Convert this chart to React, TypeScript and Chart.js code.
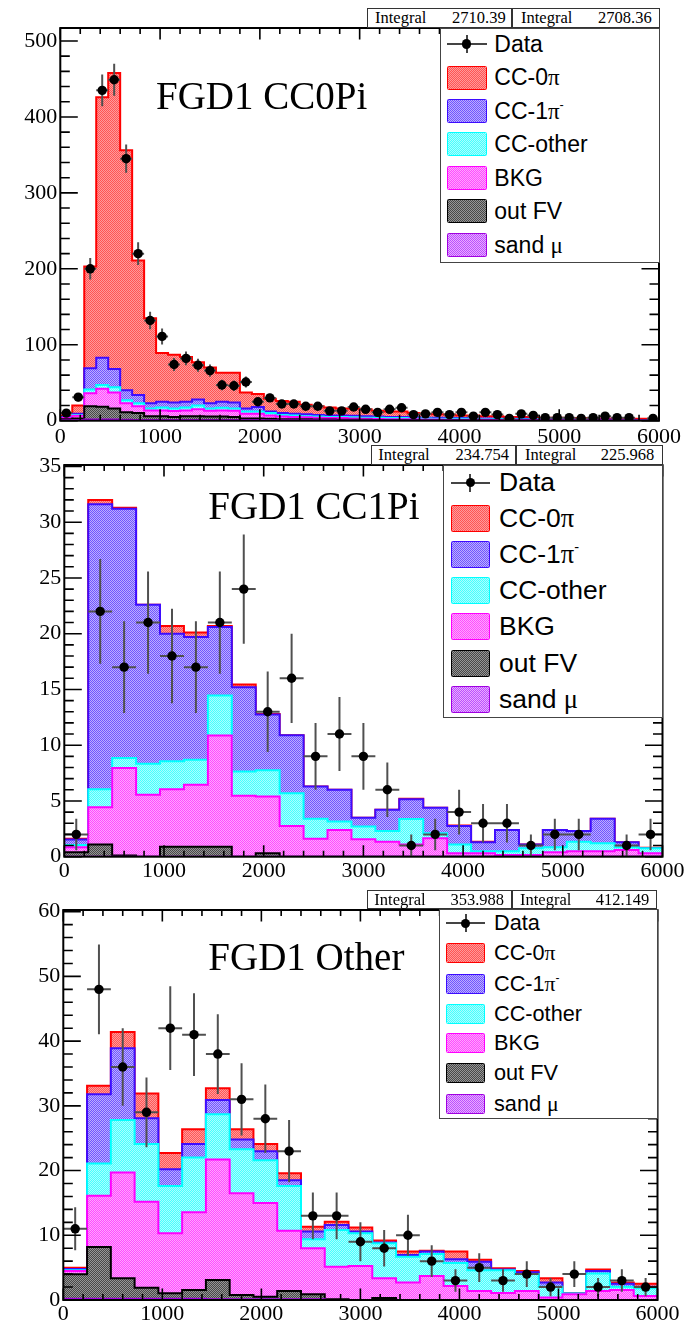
import React, { useEffect, useRef } from 'react';
import { Chart, registerables } from 'chart.js';

Chart.register(...registerables);

// ---------------- data ----------------
const X_TICK_LABELS = [0, 1000, 2000, 3000, 4000, 5000, 6000];
const LEGEND_LABELS = ['Data', 'CC-0π', 'CC-1π', 'CC-other', 'BKG', 'out FV', 'sand μ'];
const LEGEND_SUPERSCRIPTS = ['', '', '-', '', '', '', ''];

// FGD1 CC0Pi (bins of 120)
const cc0pi_binWidth = 120;
const cc0pi_yTicks = [0, 100, 200, 300, 400, 500];
const cc0pi_integrals = ['2710.39', '2708.36'];
const cc0pi_data = [10, 31, 200, 435, 449, 345, 220, 132, 111, 74, 82, 73, 66, 47, 46, 51, 25, 30, 22, 22, 19, 19, 13, 13, 18, 15, 11, 15, 17, 8, 9, 11, 8, 11, 6, 11, 8, 3, 9, 7, 4, 4, 4, 3, 4, 6, 4, 4, null, 3];
const cc0pi_mcCC0pi = [2, 11, 134, 343, 390, 316, 177, 112, 64, 63, 59, 49, 47, 38, 39, 21, 17, 17, 16, 16, 12.5, 11.5, 10.5, 9, 9.5, 9, 7.5, 7, 7, 5.5, 5, 4.5, 4.5, 3.5, 4, 3, 3.5, 2.5, 2.5, 2.5, 2, 2, 2, 2, 1.5, 1.5, 1.8, 1.3, 1.5, 1.5];
const cc0pi_mcCC1pi = [1, 1.5, 28, 36, 24, 13, 11, 7, 7.5, 8, 7.5, 8, 7, 8, 8, 4, 6, 2, 2.5, 2, 2.5, 2, 2, 2, 2, 2, 1.5, 1.5, 1.5, 1.5, 1, 1.5, 1, 1, 1, 1, 0.5, 0.7, 0.9, 0.5, 0.6, 0.7, 0.3, 0.4, 0.5, 0.5, 0.3, 0.3, 0.2, 0.2];
const cc0pi_mcCCother = [0.5, 1, 5, 5, 7, 4, 4, 2.5, 4, 3.3, 4, 5, 3, 3.5, 3, 3, 3, 3, 2, 2, 1.5, 1.5, 1.5, 1.5, 1.5, 1.5, 1.7, 1.5, 1.5, 1.2, 1.4, 1, 1.1, 1.2, 0.8, 0.9, 1, 0.9, 0.7, 0.7, 0.7, 0.6, 0.6, 0.5, 0.5, 0.5, 0.4, 0.5, 0.4, 0.4];
const cc0pi_mcBKG = [1.5, 3.5, 17, 23.5, 21, 12, 9, 7.5, 7.5, 7.7, 7.5, 9, 7.5, 8, 8, 6, 6, 4.5, 3.5, 3, 2.7, 2.4, 2, 2.1, 1.7, 1.3, 1.3, 1, 1.1, 1, 0.9, 0.9, 0.8, 0.8, 0.7, 0.7, 0.6, 0.6, 0.6, 0.5, 0.5, 0.5, 0.4, 0.4, 0.4, 0.4, 0.4, 0.3, 0.3, 0.3];
const cc0pi_mcOutFV = [1.5, 2.2, 17.5, 17, 14.5, 9.8, 9, 5, 5, 4, 5, 5, 4.5, 4.5, 4, 2.2, 2.2, 1.8, 1.4, 1.4, 1.3, 1.1, 1, 1, 0.9, 0.8, 0.7, 0.7, 0.6, 0.5, 0.4, 0.4, 0.4, 0.3, 0.3, 0.2, 0.2, 0.2, 0.2, 0.2, 0.1, 0.1, 0.1, 0.1, 0, 0, 0, 0, 0, 0];
const cc0pi_mcSand = [0.5, 0.8, 1.5, 1.5, 1.5, 1.2, 1, 1, 1, 1, 1, 1, 1, 1, 1, 0.8, 0.8, 0.7, 0.6, 0.6, 0.5, 0.5, 0.5, 0.4, 0.4, 0.4, 0.3, 0.3, 0.3, 0.3, 0.3, 0.2, 0.2, 0.2, 0.2, 0.2, 0.2, 0.1, 0.1, 0.1, 0.1, 0.1, 0.1, 0.1, 0.1, 0.1, 0.1, 0.1, 0.1, 0.1];

// FGD1 CC1Pi (bins of 240)
const cc1pi_binWidth = 240;
const cc1pi_yTicks = [0, 5, 10, 15, 20, 25, 30, 35];
const cc1pi_integrals = ['234.754', '225.968'];
const cc1pi_data = [2, 22, 17, 21, 18, 17, 21, 24, 13, 16, 9, 11, 9, 6, 1, 2, 4, 3, 3, 1, 2, 2, null, 1, 2];
const cc1pi_mcCC0pi = [0.05, 0.4, 0.1, 0, 0.7, 0.4, 0.1, 0.25, 0.05, 0, 0, 0, 0, 0, 0.04, 0, 0.04, 0.05, 0, 0, 0, 0, 0, 0, 0.05];
const cc1pi_mcCC1pi = [0.5, 25.54, 22.35, 14.26, 11.45, 11.0, 6.14, 7.55, 5.0, 5.2, 2.9, 2.85, 0.8, 1.9, 1.79, 2.3, 1.66, 0.8, 1.9, 0.35, 1.55, 0.95, 2.2, 0.45, 0];
const cc1pi_mcCCother = [0.2, 1.62, 0.9, 2.79, 2.49, 2.25, 3.6, 2.19, 2.35, 2.94, 1.8, 0.75, 1.14, 0.95, 2.27, 0.45, 0.8, 0.2, 0.35, 0.6, 0.45, 0.85, 0.7, 0.25, 0.45];
const cc1pi_mcBKG = [0.45, 3.34, 7.85, 5.55, 5.16, 5.55, 9.96, 5.46, 5.1, 2.76, 1.6, 2.4, 1.56, 1.35, 1.1, 1.65, 0.3, 0.3, 0.15, 0.15, 0.4, 0.5, 0.5, 0.6, 0.3];
const cc1pi_mcOutFV = [0.4, 1.1, 0.1, 0, 0.9, 0.9, 0.9, 0, 0.3, 0, 0, 0, 0, 0, 0, 0, 0, 0, 0, 0, 0, 0, 0, 0, 0];
const cc1pi_mcSand = [0, 0, 0, 0, 0, 0, 0, 0, 0, 0, 0, 0, 0, 0, 0, 0, 0, 0, 0, 0, 0, 0, 0, 0, 0];

// FGD1 Other (bins of 240)
const other_binWidth = 240;
const other_yTicks = [0, 10, 20, 30, 40, 50, 60];
const other_integrals = ['353.988', '412.149'];
const other_data = [11, 48, 36, 29, 42, 41, 38, 31, 28, 23, 13, 13, 9, 8, 10, 6, 3, 5, 3, 4, 2, 4, 2, 3, 2];
const other_mcCC0pi = [0.2, 1.3, 2.5, 3.8, 2.5, 2.3, 1.8, 1.6, 1.1, 1.1, 0.7, 0.5, 0.6, 0.3, 0.55, 0.1, 1.2, 0.3, 0.2, 0.2, 0.65, 0.05, 0.2, 0.2, 0.44];
const other_mcCC1pi = [0.2, 10.7, 11.1, 4.0, 2.6, 2.1, 2.2, 1.5, 1.4, 0.9, 1.2, 0.8, 0.3, 0.14, 0.25, 0.4, 0.6, 1.3, 0.1, 0.3, 0.64, 0, 0.4, 0.44, 0.26];
const other_mcCCother = [0.1, 5.0, 8.1, 8.9, 7.3, 8.45, 7.0, 6.8, 6.6, 6.9, 1.4, 5.65, 5.05, 5.41, 4.0, 3.4, 3.54, 3.2, 3.5, 2.6, 1.66, 0.12, 2.7, 0.51, 1.2];
const other_mcBKG = [0.53, 7.9, 16.35, 13.3, 9.27, 12.0, 18.6, 15.73, 14.5, 9.3, 7.1, 5.05, 5.25, 3.05, 2.7, 3.7, 2.16, 1.4, 1.1, 1.4, 0.4, 0.88, 1.4, 1.55, 0.6];
const other_mcOutFV = [3.77, 8.0, 3.15, 1.7, 0.83, 1.35, 3.0, 0.67, 0.4, 1.3, 0.8, 0.1, 0, 0.3, 0, 0, 0, 0, 0, 0, 0, 0, 0, 0, 0];
const other_mcSand = [0.2, 0.2, 0.2, 0.2, 0.2, 0.2, 0.1, 0.1, 0.1, 0.1, 0.1, 0, 0, 0, 0, 0, 0, 0, 0, 0, 0, 0, 0, 0, 0];

// ---------------- styles ----------------
const SERIF = "'Liberation Serif', 'Times New Roman', serif";
const SANS = "'Liberation Sans', Arial, Helvetica, sans-serif";

type CompKey = 'cc0pi' | 'cc1pi' | 'ccother' | 'bkg' | 'outfv' | 'sand';
const STACK_ORDER: CompKey[] = ['sand', 'outfv', 'bkg', 'ccother', 'cc1pi', 'cc0pi'];
const LEGEND_KEYS: (CompKey | null)[] = [null, 'cc0pi', 'cc1pi', 'ccother', 'bkg', 'outfv', 'sand'];
const STYLES: Record<CompKey, { line: string; dark: string; light: string }> = {
  cc0pi: { line: '#ff0000', dark: 'rgb(255,85,85)', light: 'rgb(255,155,155)' },
  cc1pi: { line: '#3d0cff', dark: 'rgb(112,86,255)', light: 'rgb(188,174,255)' },
  ccother: { line: '#00ffff', dark: 'rgb(70,255,255)', light: 'rgb(170,255,255)' },
  bkg: { line: '#ff00ff', dark: 'rgb(255,75,255)', light: 'rgb(255,165,255)' },
  outfv: { line: '#000000', dark: 'rgb(72,72,72)', light: 'rgb(150,150,150)' },
  sand: { line: '#a000e0', dark: 'rgb(185,80,255)', light: 'rgb(235,170,255)' },
};

const patternCache: Record<string, HTMLCanvasElement> = {};
function patternCanvas(key: CompKey): HTMLCanvasElement {
  if (patternCache[key]) return patternCache[key];
  const cv = document.createElement('canvas');
  cv.width = 2;
  cv.height = 2;
  const g = cv.getContext('2d')!;
  g.fillStyle = STYLES[key].light;
  g.fillRect(0, 0, 2, 2);
  g.fillStyle = STYLES[key].dark;
  g.fillRect(0, 0, 1, 1);
  g.fillRect(1, 1, 1, 1);
  patternCache[key] = cv;
  return cv;
}

type PanelDef = {
  id: string;
  canvasTop: number;
  canvasHeight: number;
  area: { left: number; right: number; top: number; bottom: number };
  yMax: number;
  yTicks: number[];
  yMinor: number;
  xLabelPad: number;
  binWidth: number;
  data: (number | null)[];
  comps: Record<CompKey, number[]>;
  integrals: string[];
  title: string;
  titleX: number;
  titleBaseline: number;
  legend: { left: number; top: number; right: number; bottom: number; swX: number; swW: number; swH: number; textX: number; rows: number[]; font: number };
  integral: { top: number; bottom: number; x0: number; xm: number; x1: number; lab1: number; val1R: number; lab2: number; val2R: number };
};

const PANELS: PanelDef[] = [
  {
    id: 'cc0pi', canvasTop: 0, canvasHeight: 450,
    area: { left: 60.3, right: 659, top: 28, bottom: 420.7 },
    yMax: 517.1, yTicks: cc0pi_yTicks, yMinor: 20, xLabelPad: 3.5, binWidth: cc0pi_binWidth,
    data: cc0pi_data,
    comps: { cc0pi: cc0pi_mcCC0pi, cc1pi: cc0pi_mcCC1pi, ccother: cc0pi_mcCCother, bkg: cc0pi_mcBKG, outfv: cc0pi_mcOutFV, sand: cc0pi_mcSand },
    integrals: cc0pi_integrals,
    title: 'FGD1 CC0Pi', titleX: 156, titleBaseline: 108.3,
    legend: { left: 440, top: 28, right: 659.5, bottom: 263, swX: 446.7, swW: 40, swH: 24, textX: 494.3, rows: [44, 77.7, 111, 144.3, 178.3, 211, 245], font: 23 },
    integral: { top: 8, bottom: 28, x0: 367, xm: 512, x1: 659.5, lab1: 375, val1R: 505.7, lab2: 521, val2R: 651.7 },
  },
  {
    id: 'cc1pi', canvasTop: 440, canvasHeight: 445,
    area: { left: 64.3, right: 662.5, top: 465, bottom: 856.7 },
    yMax: 35.13, yTicks: cc1pi_yTicks, yMinor: 1, xLabelPad: 1.5, binWidth: cc1pi_binWidth,
    data: cc1pi_data,
    comps: { cc0pi: cc1pi_mcCC0pi, cc1pi: cc1pi_mcCC1pi, ccother: cc1pi_mcCCother, bkg: cc1pi_mcBKG, outfv: cc1pi_mcOutFV, sand: cc1pi_mcSand },
    integrals: cc1pi_integrals,
    title: 'FGD1 CC1Pi', titleX: 208.3, titleBaseline: 518.3,
    legend: { left: 443, top: 465, right: 663, bottom: 718, swX: 450.7, swW: 39.3, swH: 26.5, textX: 499, rows: [482.7, 518.3, 554.3, 590.7, 626.7, 663.3, 699.3], font: 26.5 },
    integral: { top: 445, bottom: 464.5, x0: 370.7, xm: 516, x1: 663, lab1: 378.3, val1R: 509, lab2: 525, val2R: 654.3 },
  },
  {
    id: 'other', canvasTop: 885, canvasHeight: 440,
    area: { left: 63.3, right: 657.5, top: 910, bottom: 1300 },
    yMax: 60.26, yTicks: other_yTicks, yMinor: 2, xLabelPad: 1.5, binWidth: other_binWidth,
    data: other_data,
    comps: { cc0pi: other_mcCC0pi, cc1pi: other_mcCC1pi, ccother: other_mcCCother, bkg: other_mcBKG, outfv: other_mcOutFV, sand: other_mcSand },
    integrals: other_integrals,
    title: 'FGD1 Other', titleX: 208.3, titleBaseline: 969.3,
    legend: { left: 439, top: 909, right: 657.5, bottom: 1119, swX: 446, swW: 39.3, swH: 20.3, textX: 494, rows: [923.3, 953.3, 984, 1014, 1043.3, 1073.3, 1104.3], font: 21.7 },
    integral: { top: 890, bottom: 909, x0: 366.7, xm: 511.7, x1: 657.5, lab1: 374.3, val1R: 504, lab2: 520, val2R: 649.3 },
  },
];

function renderLabel(text: string, sup: string) {
  const parts: React.ReactNode[] = [];
  let buf = '';
  let k = 0;
  for (const ch of text) {
    if (ch === 'π' || ch === 'μ') {
      if (buf) parts.push(<span key={k++}>{buf}</span>);
      buf = '';
      parts.push(<span key={k++} style={{ fontFamily: SERIF }}>{ch}</span>);
    } else buf += ch;
  }
  if (buf) parts.push(<span key={k++}>{buf}</span>);
  if (sup) parts.push(<span key={k++} style={{ fontSize: '0.55em', position: 'relative', top: '-0.75em' }}>{sup}</span>);
  return parts;
}

function Panel({ p }: { p: PanelDef }) {
  const ref = useRef<HTMLCanvasElement | null>(null);

  useEffect(() => {
    const canvas = ref.current;
    if (!canvas) return;
    const ctx2d = canvas.getContext('2d')!;
    const n = p.data.length;
    const edges = Array.from({ length: n + 1 }, (_, k) => k * p.binWidth);

    let running = new Array(n).fill(0);
    const stackDatasets = STACK_ORDER.map((key) => {
      running = running.map((v, i) => v + p.comps[key][i]);
      const tops = running.slice();
      return {
        type: 'line',
        label: LEGEND_LABELS[LEGEND_KEYS.indexOf(key)],
        data: edges.map((x, k) => ({ x, y: tops[Math.min(k, n - 1)] })),
        stepped: 'before',
        fill: 'origin',
        borderColor: STYLES[key].line,
        borderWidth: 2,
        backgroundColor: ctx2d.createPattern(patternCanvas(key), 'repeat'),
        pointRadius: 0,
        pointHoverRadius: 0,
      };
    });

    const points = p.data
      .map((v, i) => (v == null ? null : { x: (i + 0.5) * p.binWidth, y: v }))
      .filter((v) => v !== null) as { x: number; y: number }[];

    const dataDataset = {
      type: 'line',
      label: 'Data',
      data: points,
      showLine: false,
      fill: false,
      pointRadius: 4.7,
      pointHoverRadius: 4.7,
      pointBackgroundColor: '#000',
      pointBorderColor: '#000',
      pointBorderWidth: 0,
    };

    const rootPlugin = {
      id: 'rootStyle',
      beforeDatasetDraw(chart: any, args: any) {
        if (args.index !== 0) return;
        const { ctx, chartArea: a, scales } = chart;
        const x = scales.x;
        const y = scales.y;
        ctx.save();
        ctx.beginPath();
        ctx.rect(a.left, a.top, a.right - a.left, a.bottom - a.top);
        ctx.clip();
        ctx.strokeStyle = '#505050';
        ctx.lineWidth = 2;
        ctx.beginPath();
        for (const pt of points) {
          const px = x.getPixelForValue(pt.x);
          const py = y.getPixelForValue(pt.y);
          const e = Math.sqrt(pt.y);
          ctx.moveTo(px, y.getPixelForValue(pt.y + e));
          ctx.lineTo(px, y.getPixelForValue(Math.max(0, pt.y - e)));
          ctx.moveTo(x.getPixelForValue(pt.x - p.binWidth / 2), py);
          ctx.lineTo(x.getPixelForValue(pt.x + p.binWidth / 2), py);
        }
        ctx.stroke();
        ctx.restore();
      },
      afterDatasetsDraw(chart: any) {
        const { ctx, chartArea: a, scales } = chart;
        const x = scales.x;
        const y = scales.y;
        ctx.save();
        ctx.strokeStyle = '#000';
        ctx.lineWidth = 1.6;
        ctx.beginPath();
        // x ticks (bottom & top), major every 1000, minor every 200
        for (let i = 0; i <= 30; i++) {
          const v = i * 200;
          const px = x.getPixelForValue(v);
          const len = i % 5 === 0 ? 11.5 : 6;
          ctx.moveTo(px, a.bottom);
          ctx.lineTo(px, a.bottom - len);
          ctx.moveTo(px, a.top);
          ctx.lineTo(px, a.top + len);
        }
        // y ticks (left & right)
        const majorStep = p.yTicks[1] - p.yTicks[0];
        const ratio = Math.round(majorStep / p.yMinor);
        for (let i = 0; i * p.yMinor <= p.yMax + 1e-9; i++) {
          const v = i * p.yMinor;
          const py = y.getPixelForValue(v);
          const len = i % ratio === 0 ? 17.5 : 9.5;
          ctx.moveTo(a.left, py);
          ctx.lineTo(a.left + len, py);
          ctx.moveTo(a.right, py);
          ctx.lineTo(a.right - len, py);
        }
        ctx.stroke();
        ctx.lineWidth = 2;
        ctx.strokeRect(a.left, a.top, a.right - a.left, a.bottom - a.top);
        ctx.restore();
      },
    };

    const tickFont = { family: SERIF, size: 22 };
    const config: any = {
      type: 'line',
      data: { datasets: [dataDataset, ...stackDatasets] },
      options: {
        animation: false,
        responsive: false,
        devicePixelRatio: 1,
        events: [],
        layout: {
          padding: { top: p.area.top - p.canvasTop, right: 689 - p.area.right, left: 0, bottom: 0 },
        },
        plugins: {
          legend: { display: false },
          tooltip: { enabled: false },
          title: { display: false },
        },
        scales: {
          x: {
            type: 'linear',
            min: 0,
            max: 6000,
            grid: { display: false, drawTicks: false },
            border: { display: false },
            ticks: {
              autoSkip: false,
              maxRotation: 0,
              minRotation: 0,
              padding: p.xLabelPad,
              color: '#000',
              font: tickFont,
              callback: (v: any) => String(v),
            },
            afterBuildTicks: (s: any) => {
              s.ticks = X_TICK_LABELS.map((v) => ({ value: v }));
            },
            afterFit: (s: any) => {
              s.height = p.canvasTop + p.canvasHeight - p.area.bottom;
            },
          },
          y: {
            type: 'linear',
            min: 0,
            max: p.yMax,
            grid: { display: false, drawTicks: false },
            border: { display: false },
            ticks: {
              padding: 3,
              color: '#000',
              font: tickFont,
              callback: (v: any) => String(v),
            },
            afterBuildTicks: (s: any) => {
              s.ticks = p.yTicks.map((v) => ({ value: v }));
            },
            afterFit: (s: any) => {
              s.width = p.area.left;
            },
          },
        },
      },
      plugins: [rootPlugin],
    };

    const chart = new Chart(canvas, config);
    return () => chart.destroy();
  }, [p]);

  const L = p.legend;
  const I = p.integral;
  const titleFont = 39;
  const intFont = 16.5;
  const intH = I.bottom - I.top;
  const intText = (left: number, right: number | null, text: string, key: string) => (
    <div
      key={key}
      style={{
        position: 'absolute',
        top: I.top,
        height: intH,
        lineHeight: `${intH}px`,
        fontSize: intFont,
        fontFamily: SERIF,
        color: '#000',
        whiteSpace: 'nowrap',
        ...(right == null ? { left } : { right: 689 - right, textAlign: 'right' as const }),
      }}
    >
      {text}
    </div>
  );

  return (
    <>
      <canvas
        ref={ref}
        width={689}
        height={p.canvasHeight}
        style={{ position: 'absolute', left: 0, top: p.canvasTop, width: 689, height: p.canvasHeight, display: 'block' }}
      />
      {/* title */}
      <div
        style={{
          position: 'absolute',
          left: p.titleX,
          top: p.titleBaseline - 0.8375 * titleFont,
          fontSize: titleFont,
          lineHeight: `${titleFont}px`,
          fontFamily: SERIF,
          color: '#000',
          whiteSpace: 'nowrap',
        }}
      >
        {p.title}
      </div>
      {/* integral boxes */}
      <div style={{ position: 'absolute', left: I.x0, top: I.top, width: I.xm - I.x0, height: intH, border: '1.3px solid #333', boxSizing: 'border-box', background: '#fff' }} />
      <div style={{ position: 'absolute', left: I.xm, top: I.top, width: I.x1 - I.xm, height: intH, border: '1.3px solid #333', boxSizing: 'border-box', background: '#fff' }} />
      {intText(I.lab1, null, 'Integral', 'l1')}
      {intText(0, I.val1R, p.integrals[0], 'v1')}
      {intText(I.lab2, null, 'Integral', 'l2')}
      {intText(0, I.val2R, p.integrals[1], 'v2')}
      {/* legend */}
      <div style={{ position: 'absolute', left: L.left, top: L.top, width: L.right - L.left, height: L.bottom - L.top, border: '1.3px solid #444', boxSizing: 'border-box', background: '#fff' }} />
      {LEGEND_LABELS.map((lab, i) => {
        const cy = L.rows[i];
        const key = LEGEND_KEYS[i];
        const cx = L.swX + L.swW / 2;
        return (
          <React.Fragment key={lab}>
            {key == null ? (
              <>
                <div style={{ position: 'absolute', left: L.swX, top: cy - 1, width: L.swW, height: 2, background: '#444' }} />
                <div style={{ position: 'absolute', left: cx - 1, top: cy - 9, width: 2, height: 18, background: '#444' }} />
                <div style={{ position: 'absolute', left: cx - 4.7, top: cy - 4.7, width: 9.4, height: 9.4, borderRadius: '50%', background: '#000' }} />
              </>
            ) : (
              <div
                style={{
                  position: 'absolute',
                  left: L.swX,
                  top: cy - L.swH / 2,
                  width: L.swW,
                  height: L.swH,
                  boxSizing: 'border-box',
                  border: `1.6px solid ${STYLES[key].line}`,
                  backgroundImage: `url(${patternCanvas(key).toDataURL()})`,
                  backgroundSize: '2px 2px',
                  imageRendering: 'pixelated',
                  borderRadius: 1.5,
                }}
              />
            )}
            <div
              style={{
                position: 'absolute',
                left: L.textX,
                top: cy - L.font / 2,
                height: L.font,
                lineHeight: `${L.font}px`,
                fontSize: L.font,
                fontFamily: SANS,
                color: '#000',
                whiteSpace: 'nowrap',
              }}
            >
              {renderLabel(lab, LEGEND_SUPERSCRIPTS[i])}
            </div>
          </React.Fragment>
        );
      })}
    </>
  );
}

export default function App() {
  return (
    <div style={{ position: 'fixed', left: 0, top: 0, width: 689, height: 1325, background: '#fff', overflow: 'hidden' }}>
      {PANELS.map((p) => (
        <Panel key={p.id} p={p} />
      ))}
    </div>
  );
}
